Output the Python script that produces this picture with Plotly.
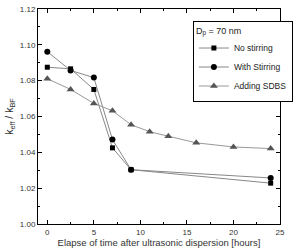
import plotly.graph_objects as go

x_ns = [0, 2.5, 5, 7, 9, 24]
y_ns = [1.0875, 1.0866, 1.0751, 1.0425, 1.0303, 1.0228]
x_ws = [0, 2.5, 5, 7, 9, 24]
y_ws = [1.0962, 1.0857, 1.0817, 1.0471, 1.0303, 1.0257]
x_sd = [0, 2.5, 5, 7, 9, 11, 13, 16, 20, 24]
y_sd = [1.0811, 1.0751, 1.0673, 1.0632, 1.0554, 1.0515, 1.0490, 1.0453, 1.0430, 1.0421]

fnt = "Liberation Sans, Arial, sans-serif"
fig = go.Figure()
fig.add_trace(go.Scatter(x=x_ns, y=y_ns, mode="lines+markers", name="No stirring",
                         line=dict(color="#888888", width=1),
                         marker=dict(symbol="square", size=5, color="black")))
fig.add_trace(go.Scatter(x=x_ws, y=y_ws, mode="lines+markers", name="With Stirring",
                         line=dict(color="#888888", width=1),
                         marker=dict(symbol="circle", size=6, color="black")))
fig.add_trace(go.Scatter(x=x_sd, y=y_sd, mode="lines+markers", name="Adding SDBS",
                         line=dict(color="#999999", width=1),
                         marker=dict(symbol="triangle-up", size=7, color="#555555")))

axis_common = dict(showline=True, linecolor="black", linewidth=1, mirror="allticks",
                   ticks="inside", ticklen=4, tickcolor="black", showgrid=False,
                   zeroline=False, tickfont=dict(family=fnt, size=8, color="#333333"))
fig.update_xaxes(range=[-1, 25], dtick=5, tick0=0,
                 minor=dict(ticks="inside", ticklen=2, dtick=2.5, tickcolor="black"),
                 title=dict(text="Elapse of time after ultrasonic dispersion [hours]",
                            font=dict(family=fnt, size=9.5, color="#333333"), standoff=3),
                 **axis_common)
fig.update_yaxes(range=[1.00, 1.12], dtick=0.02, tickformat=".2f",
                 minor=dict(ticks="inside", ticklen=2, dtick=0.01, tickcolor="black"),
                 title=dict(text="k<sub>eff</sub> / k<sub>BF</sub>",
                            font=dict(family=fnt, size=10.5, color="#333333"), standoff=4),
                 **axis_common)
fig.update_layout(width=298, height=251, margin=dict(l=38, r=5, t=7, b=23),
                  paper_bgcolor="white", plot_bgcolor="white",
                  legend=dict(x=0.64, y=0.945, xanchor="left", yanchor="top",
                              bordercolor="black", borderwidth=1, bgcolor="white",
                              font=dict(family=fnt, size=8.5, color="#222222"),
                              title=dict(text="D<sub>p</sub> = 70 nm",
                                         font=dict(family=fnt, size=9, color="#222222")),
                              tracegroupgap=0, itemwidth=30))
fig.write_html("out.html")
